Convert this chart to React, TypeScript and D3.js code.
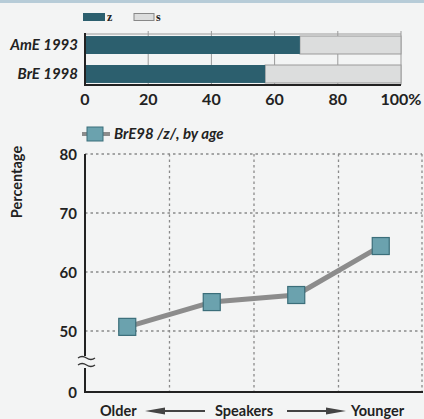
import React from "react";
import * as d3 from "d3";

const barCategories = ["AmE 1993", "BrE 1998"];
const zValues = [68, 57];
const barTicks = [0, 20, 40, 60, 80, 100];
const barTickLabels = ["0", "20", "40", "60", "80", "100%"];
const legendKeys = ["z", "s"];

const ageGroups = ["g1", "g2", "g3", "g4"];
const brE98Values = [50.7, 54.9, 56.1, 64.4];
const yTicks = [0, 50, 60, 70, 80];
const seriesLabel = "BrE98 /z/, by age";

const FONT = "Lato, 'Open Sans', sans-serif";
const TXT = "#222";
const Z_COLOR = "#2c5f6e";
const S_COLOR = "#dcdddd";
const MARK_FILL = "#6ba2ae";
const MARK_STROKE = "#3b6e7a";

export default function App() {
  // top bar chart
  const x = d3.scaleLinear().domain([0, 100]).range([85, 401]);
  const yb = d3.scaleBand<string>().domain(barCategories).range([34, 85]).paddingInner(0.38).paddingOuter(0.07);

  // line chart
  const xl = d3.scaleBand<string>().domain(ageGroups).range([85, 423]);
  const yl = d3.scaleLinear().domain([0, 50, 80]).range([392, 331, 154]);
  const line = d3
    .line<number>()
    .x((_, i) => (xl(ageGroups[i]) as number) + xl.bandwidth() / 2)
    .y((v) => yl(v));

  const plotL = 85, plotR = 422, plotT = yl(80), plotB = yl(0);

  return (
    <svg
      width={424}
      height={419}
      style={{ position: "absolute", left: 0, top: 0, background: "#f3f4f4" }}
      fontFamily={FONT}
    >
      <rect x={0} y={0} width={424} height={3} fill="#b7ccd8" />

      {/* top legend */}
      <rect x={83} y={13} width={22} height={8} fill={Z_COLOR} />
      <text x={107} y={21} fontSize={12} fontWeight={700} fill={TXT} fontFamily="'Liberation Serif', serif">{legendKeys[0]}</text>
      <rect x={134} y={13.5} width={20} height={7} fill={S_COLOR} stroke="#888" strokeWidth={1} />
      <text x={156} y={21} fontSize={12} fontWeight={700} fill={TXT} fontFamily="'Liberation Serif', serif">{legendKeys[1]}</text>

      {/* top gridlines */}
      {barTicks.slice(1).map((t) => (
        <line key={t} x1={x(t)} x2={x(t)} y1={31} y2={85} stroke="#9a9a9a" strokeWidth={1} />
      ))}
      <line x1={x(0)} x2={x(100)} y1={34} y2={34} stroke="#9a9a9a" strokeWidth={1} />

      {/* bars */}
      {barCategories.map((c, i) => (
        <g key={c}>
          <rect x={x(zValues[i])} y={yb(c)} width={x(100) - x(zValues[i])} height={yb.bandwidth()} fill={S_COLOR} stroke="#9a9a9a" strokeWidth={1} />
          <rect x={x(0)} y={yb(c)} width={x(zValues[i]) - x(0)} height={yb.bandwidth()} fill={Z_COLOR} />
          <text
            x={78}
            y={(yb(c) as number) + yb.bandwidth() / 2 + 5}
            textAnchor="end"
            fontSize={15}
            fontStyle="italic"
            fontWeight={700}
            fill={TXT}
          >
            {c}
          </text>
        </g>
      ))}
      <line x1={x(0)} x2={x(100)} y1={85} y2={85} stroke="#222" strokeWidth={2} />
      <line x1={x(0)} x2={x(0)} y1={33} y2={86} stroke="#222" strokeWidth={2} />
      {barTicks.map((t, i) => (
        <text key={t} x={x(t)} y={105} textAnchor="middle" fontSize={16} fontWeight={700} fill={TXT}>
          {barTickLabels[i]}
        </text>
      ))}

      {/* line chart legend */}
      <line x1={82} x2={110} y1={134} y2={134} stroke="#8c8c8c" strokeWidth={4} />
      <rect x={87} y={127} width={16} height={14} fill={MARK_FILL} stroke={MARK_STROKE} strokeWidth={1} />
      <text x={114} y={139} fontSize={15} fontStyle="italic" fontWeight={700} fill={TXT}>{seriesLabel}</text>

      {/* gridlines */}
      {yTicks.filter((t) => t >= 50).map((t) => (
        <line key={t} x1={plotL} x2={plotR} y1={yl(t)} y2={yl(t)} stroke="#8a8a8a" strokeWidth={1.3} strokeDasharray="2.5,3" />
      ))}
      {ageGroups.map((g) => (
        <line
          key={g}
          x1={Math.min((xl(g) as number) + xl.bandwidth(), plotR)}
          x2={Math.min((xl(g) as number) + xl.bandwidth(), plotR)}
          y1={plotT}
          y2={plotB}
          stroke="#8a8a8a"
          strokeWidth={1.3}
          strokeDasharray="2.5,3"
        />
      ))}

      {/* axes */}
      <line x1={plotL} x2={plotL} y1={plotT} y2={356} stroke="#222" strokeWidth={2} />
      <line x1={plotL} x2={plotL} y1={368} y2={plotB + 1} stroke="#222" strokeWidth={2} />
      <line x1={plotL - 1} x2={plotR + 1} y1={plotB} y2={plotB} stroke="#222" strokeWidth={2.2} />
      <path d="M78,358 q4,-3 8.5,0 t8.5,0" fill="none" stroke="#333" strokeWidth={1.3} />
      <path d="M78,365 q4,-3 8.5,0 t8.5,0" fill="none" stroke="#333" strokeWidth={1.3} />

      {yTicks.map((t) => (
        <text key={t} x={77} y={yl(t) + 5.5} textAnchor="end" fontSize={15} fontWeight={700} fill={TXT}>
          {t}
        </text>
      ))}
      <text
        transform="translate(22,182) rotate(-90)"
        textAnchor="middle"
        fontSize={14.5}
        fontWeight={700}
        fill={TXT}
      >
        Percentage
      </text>

      {/* series */}
      <path d={line(brE98Values) || ""} fill="none" stroke="#8c8c8c" strokeWidth={5} strokeLinejoin="round" />
      {brE98Values.map((v, i) => (
        <rect
          key={i}
          x={(xl(ageGroups[i]) as number) + xl.bandwidth() / 2 - 8.5}
          y={yl(v) - 8.5}
          width={17}
          height={17}
          fill={MARK_FILL}
          stroke={MARK_STROKE}
          strokeWidth={1.2}
        />
      ))}

      {/* bottom labels */}
      <text x={100} y={416} fontSize={14.5} fontWeight={700} fill={TXT}>Older</text>
      <line x1={160} x2={205} y1={411} y2={411} stroke="#444" strokeWidth={2} />
      <path d="M145,411 L165,407.5 L165,414.5 Z" fill="#444" />
      <text x={215} y={416} fontSize={14.5} fontWeight={700} fill={TXT}>Speakers</text>
      <line x1={287} x2={330} y1={411} y2={411} stroke="#444" strokeWidth={2} />
      <path d="M346,411 L326,407.5 L326,414.5 Z" fill="#444" />
      <text x={351} y={416} fontSize={14.5} fontWeight={700} fill={TXT}>Younger</text>
    </svg>
  );
}
